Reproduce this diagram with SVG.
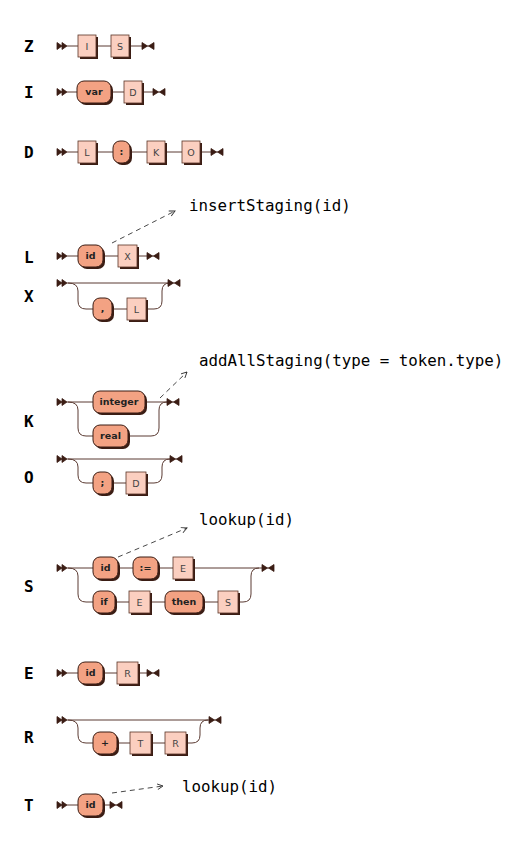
<svg xmlns="http://www.w3.org/2000/svg" xmlns:xlink="http://www.w3.org/1999/xlink" width="523" height="842" viewBox="0 0 523 842">
<style>
.bg{fill:#ffffff}
.sh{fill:#3b1d14}
.t{fill:#f3a283;stroke:#3b1d14;stroke-width:1}
.n{fill:#fbcfc0;stroke:#5a3427;stroke-width:0.8}
.tt{font-family:"DejaVu Sans",sans-serif;font-weight:bold;font-size:9.5px;fill:#222;text-anchor:middle}
.nt{font-family:"DejaVu Sans",sans-serif;font-size:9.5px;fill:#444;text-anchor:middle}
.ln{fill:none;stroke:#5b3b33;stroke-width:1}
.sym{fill:#3b1d14;stroke:#3b1d14;stroke-width:0.8}
.lbl{font-family:"DejaVu Sans Mono",monospace;font-weight:bold;font-size:16px;fill:#000}
.ann{font-family:"DejaVu Sans Mono",monospace;font-size:15.8px;fill:#000}
.dash{fill:none;stroke:#333;stroke-width:0.9;stroke-dasharray:5 4}
</style>
<defs>
<path id="st" d="M0 -3.5 L5 0 L0 3.5 Z M5 -3.5 L10 0 L5 3.5 Z"/>
<path id="en" d="M0 -3.5 L5.5 0 L0 3.5 Z M12 -3.5 L6.5 0 L12 3.5 Z M0 0 H12"/>
<marker id="ah" viewBox="0 0 10 10" refX="9" refY="5" markerWidth="7" markerHeight="7" orient="auto" markerUnits="userSpaceOnUse">
<path d="M1 1 L9 5 L1 9" fill="none" stroke="#333" stroke-width="1.3"/>
</marker>
</defs>
<rect class="bg" x="0" y="0" width="523" height="842"/>

<g id="labels">
<text class="lbl" x="24" y="52">Z</text>
<text class="lbl" x="24" y="98">I</text>
<text class="lbl" x="24" y="158">D</text>
<text class="lbl" x="24" y="263">L</text>
<text class="lbl" x="24" y="302">X</text>
<text class="lbl" x="24" y="427">K</text>
<text class="lbl" x="24" y="483">O</text>
<text class="lbl" x="24" y="592">S</text>
<text class="lbl" x="24" y="679">E</text>
<text class="lbl" x="24" y="743">R</text>
<text class="lbl" x="24" y="811">T</text>
</g>

<g id="connectors">
<path class="ln" d="M67 46 H78 M96 46 H111 M129 46 H142"/>
<path class="ln" d="M67 92 H77 M111 92 H124 M142 92 H153"/>
<path class="ln" d="M67 152 H78 M96 152 H113 M130 152 H147 M165 152 H182 M200 152 H211"/>
<path class="ln" d="M67 256 H78 M103 256 H118 M137 256 H147"/>
<path class="ln" d="M67 283 H168 M68 283 Q78 283 78 291 V301 Q78 309 86 309 H93 M112 309 H127 M146 309 H154 Q162 309 162 301 V291 Q162 283 170 283"/>
<path class="ln" d="M67 402 H93 M145 402 H167 M68 402 Q78 402 78 410 V428 Q78 436 86 436 H93 M128 436 H151 Q159 436 159 428 V410 Q159 402 167 402"/>
<path class="ln" d="M67 459 H170 M68 459 Q78 459 78 467 V475 Q78 483 86 483 H93 M112 483 H126 M146 483 H154 Q162 483 162 475 V467 Q162 459 170 459"/>
<path class="ln" d="M67 568 H93 M118 568 H133 M158 568 H173 M193 568 H262 M68 568 Q78 568 78 576 V594 Q78 602 86 602 H93 M115 602 H129 M150 602 H165 M203 602 H218 M238 602 H243 Q251 602 251 594 V576 Q251 568 259 568"/>
<path class="ln" d="M67 673 H78 M103 673 H117 M138 673 H147"/>
<path class="ln" d="M67 720 H209 M68 720 Q78 720 78 728 V735 Q78 743 86 743 H93 M117 743 H130 M151 743 H165 M186 743 H192 Q200 743 200 735 V728 Q200 720 208 720"/>
<path class="ln" d="M67 805 H78 M103 805 H110"/>
<g class="sym">
<use xlink:href="#st" x="57" y="46"/><use xlink:href="#en" x="142" y="46"/>
<use xlink:href="#st" x="57" y="92"/><use xlink:href="#en" x="153" y="92"/>
<use xlink:href="#st" x="57" y="152"/><use xlink:href="#en" x="211" y="152"/>
<use xlink:href="#st" x="57" y="256"/><use xlink:href="#en" x="147" y="256"/>
<use xlink:href="#st" x="57" y="283"/><use xlink:href="#en" x="168" y="283"/>
<use xlink:href="#st" x="57" y="402"/><use xlink:href="#en" x="167" y="402"/>
<use xlink:href="#st" x="57" y="459"/><use xlink:href="#en" x="170" y="459"/>
<use xlink:href="#st" x="57" y="568"/><use xlink:href="#en" x="262" y="568"/>
<use xlink:href="#st" x="57" y="673"/><use xlink:href="#en" x="147" y="673"/>
<use xlink:href="#st" x="57" y="720"/><use xlink:href="#en" x="209" y="720"/>
<use xlink:href="#st" x="57" y="805"/><use xlink:href="#en" x="110" y="805"/>
</g>
<path class="dash" d="M112 243 L175 211" marker-end="url(#ah)"/>
<path class="dash" d="M160 398 L187 372" marker-end="url(#ah)"/>
<path class="dash" d="M118 557 L187 528" marker-end="url(#ah)"/>
<path class="dash" d="M112 793 L163 786" marker-end="url(#ah)"/>
</g>

<g id="annotations">
<text class="ann" x="189" y="211">insertStaging(id)</text>
<text class="ann" x="199" y="366">addAllStaging(type = token.type)</text>
<text class="ann" x="199" y="525">lookup(id)</text>
<text class="ann" x="182" y="792">lookup(id)</text>
</g>

<!-- Z -->
<g id="Z-I"><rect class="sh" x="80" y="37" width="18" height="22"/><rect class="n" x="78" y="35" width="18" height="22"/><text class="nt" x="87" y="49.5">I</text></g>
<g id="Z-S"><rect class="sh" x="113" y="37" width="18" height="22"/><rect class="n" x="111" y="35" width="18" height="22"/><text class="nt" x="120" y="49.5">S</text></g>
<!-- I -->
<g id="I-var"><rect class="sh" x="79" y="83" width="34" height="22" rx="7"/><rect class="t" x="77" y="81" width="34" height="22" rx="7"/><text class="tt" x="94" y="95.3">var</text></g>
<g id="I-D"><rect class="sh" x="126" y="83" width="18" height="22"/><rect class="n" x="124" y="81" width="18" height="22"/><text class="nt" x="133" y="95.5">D</text></g>
<!-- D -->
<g id="D-L"><rect class="sh" x="80" y="143" width="18" height="22"/><rect class="n" x="78" y="141" width="18" height="22"/><text class="nt" x="87" y="155.5">L</text></g>
<g id="D-colon"><rect class="sh" x="115" y="143" width="17" height="22" rx="7"/><rect class="t" x="113" y="141" width="17" height="22" rx="7"/><text class="tt" x="121.5" y="155.3">:</text></g>
<g id="D-K"><rect class="sh" x="149" y="143" width="18" height="22"/><rect class="n" x="147" y="141" width="18" height="22"/><text class="nt" x="156" y="155.5">K</text></g>
<g id="D-O"><rect class="sh" x="184" y="143" width="18" height="22"/><rect class="n" x="182" y="141" width="18" height="22"/><text class="nt" x="191" y="155.5">O</text></g>
<!-- L -->
<g id="L-id"><rect class="sh" x="80" y="247" width="25" height="22" rx="7"/><rect class="t" x="78" y="245" width="25" height="22" rx="7"/><text class="tt" x="90.5" y="259.3">id</text></g>
<g id="L-X"><rect class="sh" x="120" y="247" width="19" height="22"/><rect class="n" x="118" y="245" width="19" height="22"/><text class="nt" x="127.5" y="259.5">X</text></g>
<!-- X -->
<g id="X-comma"><rect class="sh" x="95" y="300" width="19" height="22" rx="7"/><rect class="t" x="93" y="298" width="19" height="22" rx="7"/><text class="tt" x="102.5" y="312.3">,</text></g>
<g id="X-L"><rect class="sh" x="129" y="300" width="19" height="22"/><rect class="n" x="127" y="298" width="19" height="22"/><text class="nt" x="136.5" y="312.5">L</text></g>
<!-- K -->
<g id="K-integer"><rect class="sh" x="95" y="393" width="52" height="22" rx="7"/><rect class="t" x="93" y="391" width="52" height="22" rx="7"/><text class="tt" x="119" y="405.3">integer</text></g>
<g id="K-real"><rect class="sh" x="95" y="427" width="35" height="22" rx="7"/><rect class="t" x="93" y="425" width="35" height="22" rx="7"/><text class="tt" x="110.5" y="439.3">real</text></g>
<!-- O -->
<g id="O-semi"><rect class="sh" x="95" y="474" width="19" height="22" rx="7"/><rect class="t" x="93" y="472" width="19" height="22" rx="7"/><text class="tt" x="102.5" y="486.3">;</text></g>
<g id="O-D"><rect class="sh" x="128" y="474" width="20" height="22"/><rect class="n" x="126" y="472" width="20" height="22"/><text class="nt" x="136" y="486.5">D</text></g>
<!-- S -->
<g id="S-id"><rect class="sh" x="95" y="559" width="25" height="22" rx="7"/><rect class="t" x="93" y="557" width="25" height="22" rx="7"/><text class="tt" x="105.5" y="571.3">id</text></g>
<g id="S-assign"><rect class="sh" x="135" y="559" width="25" height="22" rx="7"/><rect class="t" x="133" y="557" width="25" height="22" rx="7"/><text class="tt" x="145.5" y="571.3">:=</text></g>
<g id="S-E1"><rect class="sh" x="175" y="559" width="20" height="22"/><rect class="n" x="173" y="557" width="20" height="22"/><text class="nt" x="183" y="571.5">E</text></g>
<g id="S-if"><rect class="sh" x="95" y="593" width="22" height="22" rx="7"/><rect class="t" x="93" y="591" width="22" height="22" rx="7"/><text class="tt" x="104" y="605.3">if</text></g>
<g id="S-E2"><rect class="sh" x="131" y="593" width="21" height="22"/><rect class="n" x="129" y="591" width="21" height="22"/><text class="nt" x="139.5" y="605.5">E</text></g>
<g id="S-then"><rect class="sh" x="167" y="593" width="38" height="22" rx="7"/><rect class="t" x="165" y="591" width="38" height="22" rx="7"/><text class="tt" x="184" y="605.3">then</text></g>
<g id="S-S"><rect class="sh" x="220" y="593" width="20" height="22"/><rect class="n" x="218" y="591" width="20" height="22"/><text class="nt" x="228" y="605.5">S</text></g>
<!-- E -->
<g id="E-id"><rect class="sh" x="80" y="664" width="25" height="22" rx="7"/><rect class="t" x="78" y="662" width="25" height="22" rx="7"/><text class="tt" x="90.5" y="676.3">id</text></g>
<g id="E-R"><rect class="sh" x="119" y="664" width="21" height="22"/><rect class="n" x="117" y="662" width="21" height="22"/><text class="nt" x="127.5" y="676.5">R</text></g>
<!-- R -->
<g id="R-plus"><rect class="sh" x="95" y="734" width="24" height="22" rx="7"/><rect class="t" x="93" y="732" width="24" height="22" rx="7"/><text class="tt" x="105" y="746.3">+</text></g>
<g id="R-T"><rect class="sh" x="132" y="734" width="21" height="22"/><rect class="n" x="130" y="732" width="21" height="22"/><text class="nt" x="140.5" y="746.5">T</text></g>
<g id="R-R"><rect class="sh" x="167" y="734" width="21" height="22"/><rect class="n" x="165" y="732" width="21" height="22"/><text class="nt" x="175.5" y="746.5">R</text></g>
<!-- T -->
<g id="T-id"><rect class="sh" x="80" y="796" width="25" height="22" rx="7"/><rect class="t" x="78" y="794" width="25" height="22" rx="7"/><text class="tt" x="90.5" y="808.3">id</text></g>
</svg>
